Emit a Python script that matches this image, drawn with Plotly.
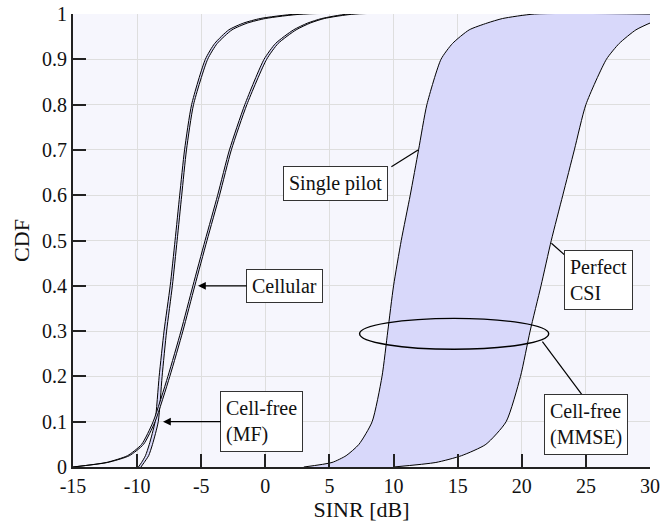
import plotly.graph_objects as go

# CDF levels shared by all curves
cdf_levels = [0, 0.01, 0.025, 0.05, 0.1, 0.2, 0.3, 0.4, 0.5, 0.6, 0.7, 0.8, 0.9, 0.935, 0.965, 0.98, 0.99, 1.0]

# SINR quantiles [dB] for each curve at the CDF levels above
mf_single = [-9.9, -9.65, -9.35, -9.05, -8.6, -8.28, -7.9, -7.42, -7.04, -6.68, -6.3, -5.75, -4.68, -3.95, -2.85, -1.7, -0.4, 2.5]
mf_perfect = [-9.7, -9.45, -9.1, -8.8, -8.35, -8.05, -7.7, -7.25, -6.88, -6.52, -6.15, -5.6, -4.5, -3.75, -2.6, -1.4, 0.0, 3.0]
cell_single = [-15.0, -12.4, -10.75, -9.65, -8.75, -7.6, -6.58, -5.65, -4.7, -3.72, -2.8, -1.6, -0.1, 0.8, 2.2, 3.3, 4.4, 6.5]
cell_perfect = [-15.0, -12.3, -10.6, -9.5, -8.6, -7.45, -6.43, -5.5, -4.55, -3.57, -2.65, -1.44, 0.1, 1.0, 2.4, 3.5, 4.6, 7.0]
mmse_single = [3.0, 5.2, 6.3, 7.3, 8.33, 9.1, 9.55, 10.0, 10.6, 11.3, 11.95, 12.6, 13.7, 14.6, 15.9, 17.3, 18.5, 21.0]
mmse_perfect = [10.0, 13.3, 15.3, 17.2, 18.78, 19.9, 20.65, 21.5, 22.3, 23.2, 24.1, 25.0, 26.6, 27.6, 28.9, 30.0, 31.0, 33.0]

x_ticks = [-15, -10, -5, 0, 5, 10, 15, 20, 25, 30]
x_tick_text = ["-15", "-10", "-5", "0", "5", "10", "15", "20", "25", "30"]
y_ticks = [0, 0.1, 0.2, 0.3, 0.4, 0.5, 0.6, 0.7, 0.8, 0.9, 1]
y_tick_text = ["0", "0.1", "0.2", "0.3", "0.4", "0.5", "0.6", "0.7", "0.8", "0.9", "1"]

X_MAX = 30
FONT = "Liberation Serif"
FILL = "rgb(216,216,250)"

fig = go.Figure()

def add_pair(left, right):
    xl = left + [max(X_MAX, left[-1])]
    yl = cdf_levels + [1.0]
    xr = right + [max(X_MAX, right[-1])]
    yr = cdf_levels + [1.0]
    fig.add_trace(go.Scatter(x=xl, y=yl, mode="lines",
                             line=dict(color="black", width=1, shape="spline", smoothing=0.6),
                             showlegend=False, hoverinfo="skip", cliponaxis=True))
    fig.add_trace(go.Scatter(x=xr, y=yr, mode="lines", fill="tonextx", fillcolor=FILL,
                             line=dict(color="black", width=1, shape="spline", smoothing=0.6),
                             showlegend=False, hoverinfo="skip", cliponaxis=True))

add_pair(mf_single, mf_perfect)
add_pair(cell_single, cell_perfect)
add_pair(mmse_single, mmse_perfect)

box = dict(bgcolor="white", bordercolor="#333", borderwidth=1, borderpad=5,
           font=dict(family=FONT, size=20, color="#111"))

annotations = [
    dict(x=5.47, y=0.626, text="Single pilot", showarrow=False, **box),
    dict(x=26.0, y=0.412, text="Perfect<br>CSI", showarrow=False, align="left", **box),
    dict(x=25.0, y=0.094, text="Cell-free<br>(MMSE)", showarrow=False, align="left", **box),
    dict(x=-5.25, y=0.4, ax=1.5, ay=0.4, axref="x", ayref="y", text="Cellular",
         showarrow=True, arrowhead=2, arrowsize=1.3, arrowwidth=1.2, arrowcolor="black", **box),
    dict(x=-7.98, y=0.1, ax=-0.28, ay=0.1, axref="x", ayref="y", text="Cell-free<br>(MF)",
         align="left", showarrow=True, arrowhead=2, arrowsize=1.3, arrowwidth=1.2, arrowcolor="black", **box),
]

shapes = [
    dict(type="line", x0=9.83, y0=0.663, x1=11.91, y1=0.70, line=dict(color="black", width=1.2)),
    dict(type="line", x0=22.31, y0=0.494, x1=23.43, y1=0.466, line=dict(color="black", width=1.2)),
    dict(type="line", x0=21.61, y0=0.2766, x1=24.91, y1=0.1517, line=dict(color="black", width=1.2)),
    dict(type="circle", x0=7.35, x1=22.1, y0=0.26, y1=0.328, line=dict(color="black", width=1.4)),
]

fig.update_layout(
    width=670, height=522,
    margin=dict(l=73, r=20, t=14, b=55, autoexpand=False),
    paper_bgcolor="white",
    plot_bgcolor="rgb(246,246,253)",
    font=dict(family=FONT, size=20, color="#111"),
    annotations=annotations,
    shapes=shapes,
    xaxis=dict(range=[-15, 30], tickvals=x_ticks, ticktext=x_tick_text,
               showgrid=True, gridcolor="rgb(222,222,222)", gridwidth=1,
               showline=True, linecolor="#222", linewidth=2, mirror=False,
               ticks="inside", ticklen=13, tickwidth=1.5, tickcolor="#222",
               zeroline=False, automargin=False,
               title=dict(text="SINR [dB]", font=dict(size=22), standoff=4),
               tickfont=dict(size=20)),
    yaxis=dict(range=[0, 1], tickvals=y_ticks, ticktext=y_tick_text,
               showgrid=True, gridcolor="rgb(222,222,222)", gridwidth=1,
               showline=True, linecolor="#222", linewidth=2, mirror=False,
               ticks="inside", ticklen=13, tickwidth=1.5, tickcolor="#222",
               zeroline=False, automargin=False,
               title=dict(text="CDF", font=dict(size=22), standoff=6),
               tickfont=dict(size=20)),
)

fig.write_html("out.html", config={"displayModeBar": False},
               post_script="document.body.style.margin='0';")
